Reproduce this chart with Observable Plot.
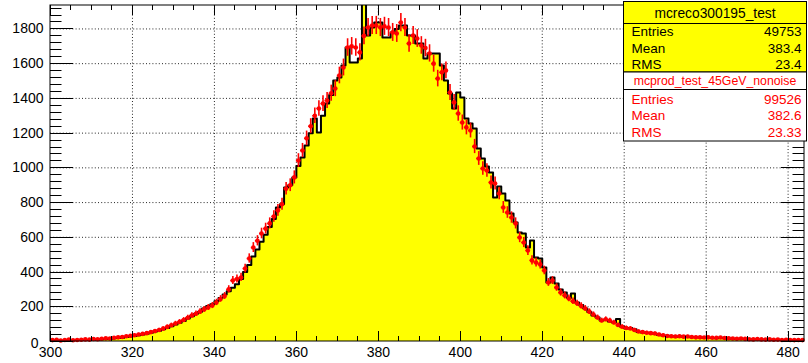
<!DOCTYPE html>
<html>
<head>
<meta charset="utf-8">
<script src="https://cdn.jsdelivr.net/npm/d3@7"></script>
<script src="https://cdn.jsdelivr.net/npm/@observablehq/plot@0.6"></script>
<style>
  body { margin: 0; background: #fff; }
  #chart { width: 808px; height: 363px; }
</style>
</head>
<body>
<div id="chart"></div>
<script>
// Histogram binning: 184 bins of width 1 from 300 to 484
const xMin = 300;
const xMax = 484;
const yMax = 1935;

// mcreco300195_test (yellow filled histogram), counts per bin
const recoCounts = [
  4, 6, 3, 5, 7, 4, 6, 8, 7, 9,
  11, 10, 13, 15, 14, 18, 20, 22, 26, 29,
  31, 36, 40, 45, 50, 57, 62, 70, 78, 88,
  98, 108, 118, 132, 145, 160, 172, 190, 205, 215,
  232, 250, 270, 290, 310, 330, 360, 400, 440, 490,
  530, 575, 615, 660, 705, 772, 790, 887, 900, 945,
  1010, 1060, 1129, 1200, 1284, 1204, 1300, 1371, 1420, 1503,
  1520, 1590, 1693, 1607, 1607, 1630, 1962, 1762, 1808, 1837,
  1837, 1750, 1750, 1780, 1800, 1820, 1820, 1762, 1762, 1716,
  1716, 1630, 1659, 1659, 1659, 1590, 1503, 1428, 1342, 1434,
  1405, 1284, 1256, 1227, 1112, 1054, 1008, 973, 829, 893,
  852, 812, 737, 685, 628, 622, 541, 582, 484, 478,
  426, 340, 369, 334, 300, 282, 250, 276, 225, 210,
  190, 170, 150, 138, 121, 125, 115, 109, 130, 85,
  75, 78, 70, 55, 52, 50, 48, 44, 38, 35,
  33, 30, 29, 28, 30, 27, 25, 24, 23, 22,
  22, 20, 19, 21, 18, 17, 16, 15, 16, 14,
  13, 12, 11, 12, 10, 11, 9, 10, 9, 8,
  8, 7, 8, 7
];

// mcprod_test_45GeV_nonoise (red points with error bars), normalised counts per bin
const prodCounts = [
  8, 10, 6, 9, 11, 7, 9, 10, 12, 11,
  14, 13, 16, 18, 17, 21, 24, 26, 30, 33,
  36, 40, 44, 48, 54, 60, 66, 74, 84, 94,
  104, 113, 124, 137, 150, 160, 172, 185, 196, 207,
  225, 245, 262, 300, 351, 360, 369, 420, 478, 541,
  580, 622, 650, 680, 720, 755, 790, 880, 900, 945,
  1042, 1100, 1170, 1240, 1300, 1342, 1370, 1388, 1430, 1457,
  1532, 1578, 1693, 1700, 1693, 1665, 1760, 1808, 1820, 1820,
  1808, 1815, 1808, 1780, 1774, 1837, 1808, 1716, 1762, 1745,
  1705, 1690, 1659, 1600, 1514, 1550, 1561, 1434, 1377, 1313,
  1261, 1233, 1215, 1123, 1054, 996, 985, 916, 910, 852,
  772, 743, 714, 680, 599, 570, 524, 467, 455, 444,
  409, 340, 351, 311, 282, 265, 248, 232, 220, 205,
  190, 172, 155, 138, 121, 128, 120, 109, 95, 85,
  78, 75, 66, 58, 54, 50, 48, 46, 40, 36,
  32, 30, 29, 30, 28, 29, 26, 24, 24, 23,
  24, 22, 21, 23, 20, 19, 17, 16, 17, 15,
  13, 12, 14, 12, 11, 12, 10, 11, 9, 10,
  9, 8, 9, 8
];
// error bar weight: err = sqrt(w * count)
const prodErrWeight = 1.5;

const xTicks = [300, 320, 340, 360, 380, 400, 420, 440, 460, 480];
const yTicks = [0, 200, 400, 600, 800, 1000, 1200, 1400, 1600, 1800];

const statLabels = ["Entries", "Mean", "RMS"];
const recoTitle = "mcreco300195_test";
const recoValues = ["49753", "383.4", "23.4"];
const prodTitle = "mcprod_test_45GeV_nonoise";
const prodValues = ["99526", "382.6", "23.33"];

const yellow = "#ffff00";
const red = "#ff0000";
const font = "'Liberation Sans', Arial, Helvetica, sans-serif";

// step outline / fill data for the yellow histogram
const binW = (xMax - xMin) / recoCounts.length;
const steps = [{x: xMin, y: 0}];
recoCounts.forEach((c, i) => steps.push({x: xMin + i * binW, y: c}));
steps.push({x: xMax, y: recoCounts[recoCounts.length - 1]});
steps.push({x: xMax, y: 0});

const points = prodCounts.map((c, i) => {
  const e = Math.sqrt(prodErrWeight * c);
  return {x1: xMin + i * binW, x2: xMin + (i + 1) * binW, xc: xMin + (i + 0.5) * binW, y: c, lo: c - e, hi: c + e};
});

const chart = Plot.plot({
  width: 808,
  height: 363,
  marginLeft: 50,
  marginRight: 4,
  marginTop: 5,
  marginBottom: 22,
  style: {fontFamily: font, fontSize: "14px", background: "#fff", color: "#000"},
  x: {domain: [xMin, xMax]},
  y: {domain: [0, yMax]},
  marks: [
    Plot.gridX(xTicks.filter(v => v > xMin), {stroke: "#000", strokeOpacity: 0.85, strokeDasharray: "1,2.2"}),
    Plot.gridY(yTicks.filter(v => v > 0), {stroke: "#000", strokeOpacity: 0.85, strokeDasharray: "1,2.2"}),
    Plot.areaY(steps, {x: "x", y: "y", curve: "step-after", fill: yellow, clip: true}),
    Plot.line(steps, {x: "x", y: "y", curve: "step-after", stroke: "#000", strokeWidth: 2, clip: true}),
    Plot.ruleX(points, {x: "xc", y1: "lo", y2: "hi", stroke: red, strokeWidth: 1.6}),
    Plot.ruleY(points, {y: "y", x1: "x1", x2: "x2", stroke: red, strokeWidth: 1.6}),
    Plot.dot(points, {x: "xc", y: "y", r: 2.3, fill: red, stroke: null}),
    Plot.axisX(xTicks, {tickSize: 0, tickPadding: 6, fontSize: 14, label: null, tickFormat: d => String(d)}),
    Plot.axisY(yTicks.filter(v => v > 0), {tickSize: 0, tickPadding: 7, fontSize: 14, label: null, tickFormat: d => String(d)}),
    Plot.axisY([0], {tickSize: 0, tickPadding: 12, dy: 2, fontSize: 14, label: null, tickFormat: d => String(d)})
  ]
});

document.getElementById("chart").appendChild(chart);

// frame, ticks (inside the frame on all four sides) and the statistics boxes
const sx = chart.scale("x"), sy = chart.scale("y");
const X = d3.scaleLinear(sx.domain, sx.range);
const Y = d3.scaleLinear(sy.domain, sy.range);
const svg = d3.select(chart);
const frame = svg.append("g").attr("fill", "none").attr("stroke", "#000").attr("stroke-width", 1);
const fLeft = X(xMin), fRight = X(xMax), fBottom = Y(0), fTop = Y(yMax);

frame.append("rect").attr("x", fLeft).attr("y", fTop).attr("width", fRight - fLeft).attr("height", fBottom - fTop);

d3.range(0, yMax, 40).forEach(v => {
  const len = v % 200 === 0 ? 23 : 11.5;
  const y = Math.round(Y(v)) + 0.5;
  frame.append("line").attr("x1", fLeft).attr("x2", fLeft + len).attr("y1", y).attr("y2", y);
  frame.append("line").attr("x1", fRight - len).attr("x2", fRight).attr("y1", y).attr("y2", y);
});
d3.range(xMin, xMax + 0.001, 5).forEach(v => {
  const len = v % 20 === 0 ? 10 : 5;
  const x = Math.round(X(v)) + 0.5;
  frame.append("line").attr("x1", x).attr("x2", x).attr("y1", fBottom).attr("y2", fBottom - len);
  frame.append("line").attr("x1", x).attr("x2", x).attr("y1", fTop).attr("y2", fTop + len);
});

const bx = 623.5, bw = 183, rowL = 631.5, rowR = 801.5;
const stats = svg.append("g").attr("font-family", font).attr("text-anchor", "start");

// first box: mcreco300195_test
stats.append("rect").attr("x", bx).attr("y", 1.5).attr("width", bw).attr("height", 70.5)
  .attr("fill", yellow).attr("stroke", "#000");
stats.append("line").attr("x1", bx).attr("x2", bx + bw).attr("y1", 23.5).attr("y2", 23.5).attr("stroke", "#000");
stats.append("text").attr("x", bx + bw / 2).attr("y", 13).attr("dy", "0.35em")
  .attr("text-anchor", "middle").attr("font-size", 13.8).attr("fill", "#000").text(recoTitle);
statLabels.forEach((s, i) => {
  const y = 31.7 + i * 16.2;
  stats.append("text").attr("x", rowL).attr("y", y).attr("dy", "0.35em").attr("font-size", 13.5)
    .attr("text-anchor", "start").attr("fill", "#000").text(s);
  stats.append("text").attr("x", rowR).attr("y", y).attr("dy", "0.35em").attr("font-size", 13.5)
    .attr("text-anchor", "end").attr("fill", "#000").text(recoValues[i]);
});

// second box: mcprod_test_45GeV_nonoise
stats.append("rect").attr("x", bx).attr("y", 72).attr("width", bw).attr("height", 69)
  .attr("fill", "#fff").attr("stroke", "#000");
stats.append("line").attr("x1", bx).attr("x2", bx + bw).attr("y1", 89.5).attr("y2", 89.5).attr("stroke", "#000");
stats.append("text").attr("x", bx + bw / 2).attr("y", 80.5).attr("dy", "0.35em")
  .attr("text-anchor", "middle").attr("font-size", 12.3).attr("fill", red).text(prodTitle);
statLabels.forEach((s, i) => {
  const y = 99.5 + i * 16.2;
  stats.append("text").attr("x", rowL).attr("y", y).attr("dy", "0.35em").attr("font-size", 13.5)
    .attr("text-anchor", "start").attr("fill", red).text(s);
  stats.append("text").attr("x", rowR).attr("y", y).attr("dy", "0.35em").attr("font-size", 13.5)
    .attr("text-anchor", "end").attr("fill", red).text(prodValues[i]);
});
</script>
</body>
</html>
